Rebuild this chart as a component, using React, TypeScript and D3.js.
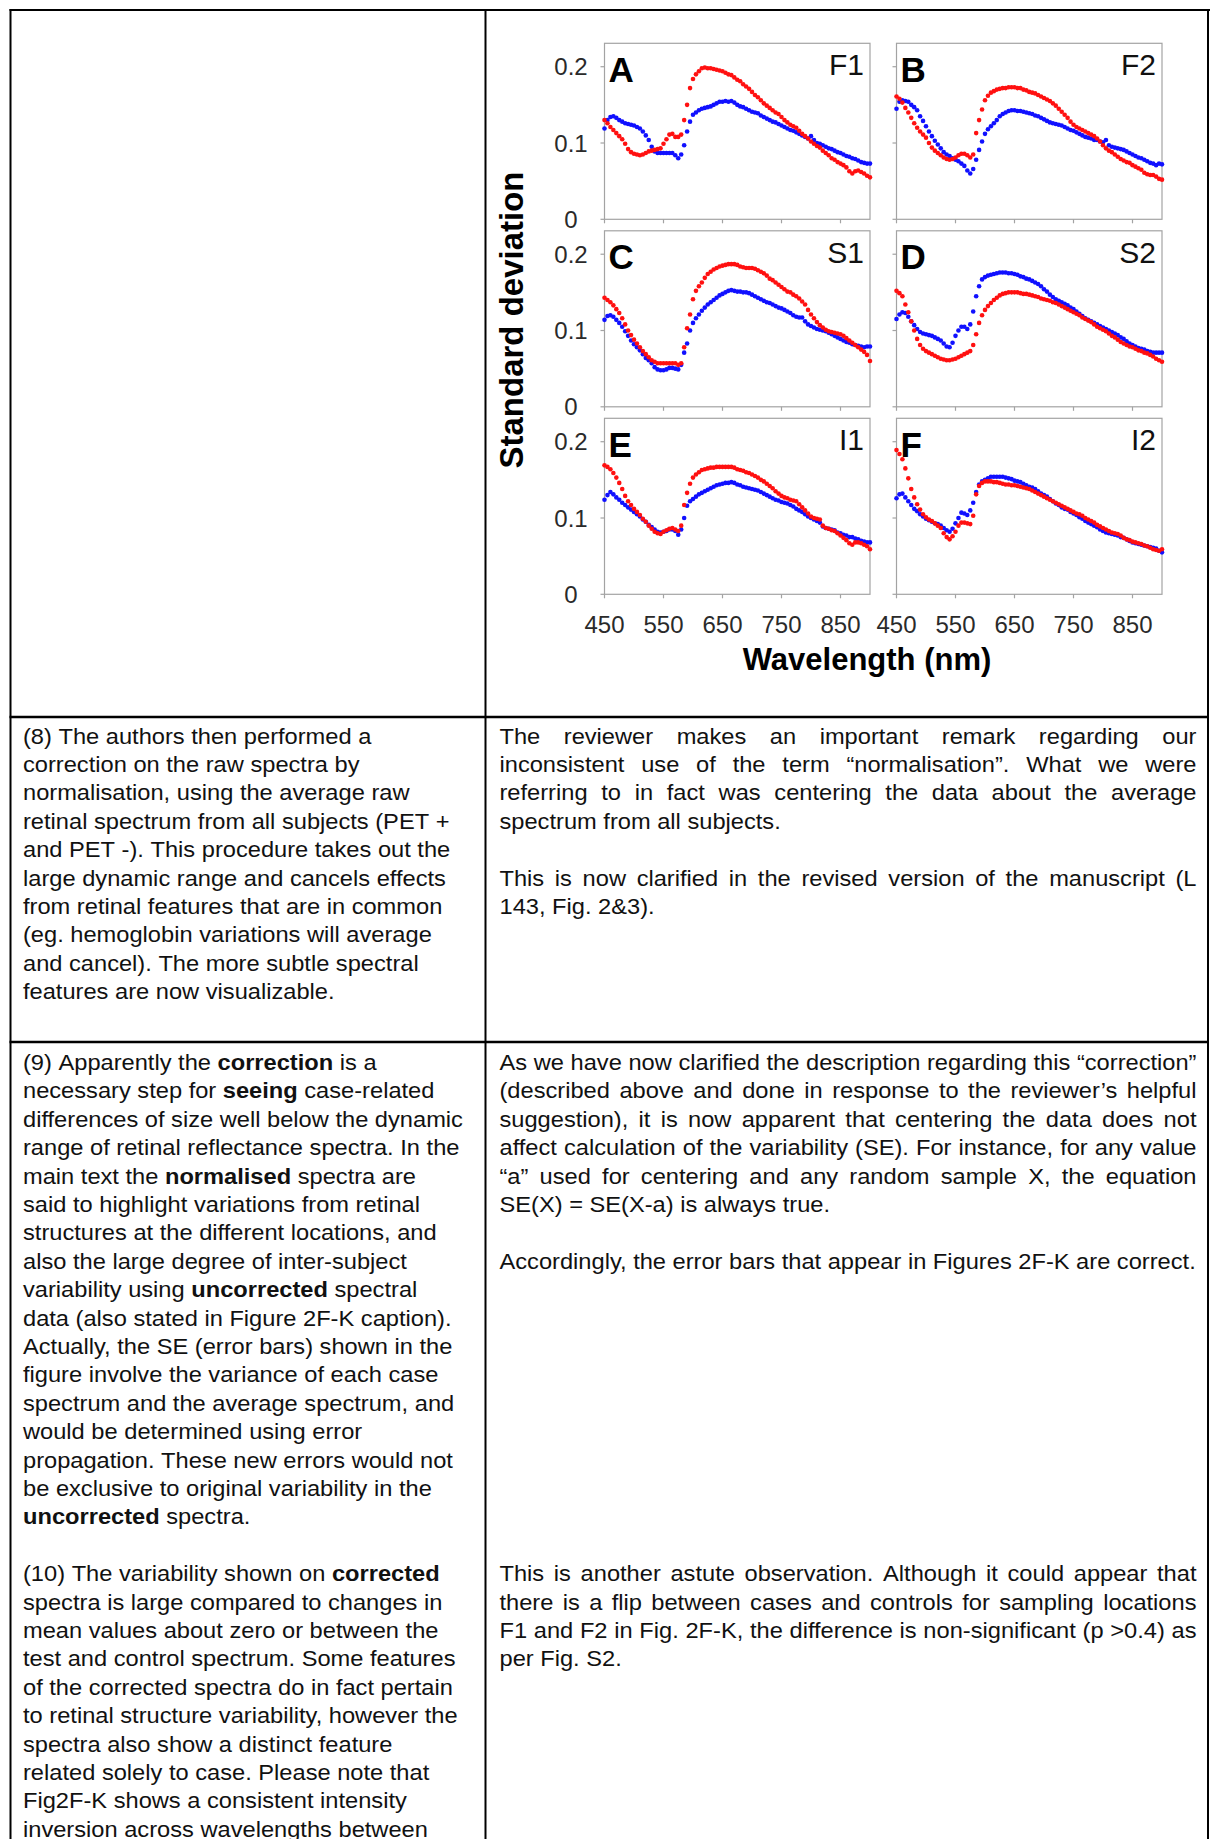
import React, { useEffect } from "react";
import * as d3 from "d3";

// ---------- DATA ----------
const WAVELENGTHS = d3.range(450, 901, 5);
const X_TICKS = [450, 550, 650, 750, 850];
const Y_TICKS = [0, 0.1, 0.2];
const Y_TICK_LABELS = ["0", "0.1", "0.2"];

const A_BLUE = [
  0.119,0.130,0.134,0.135,0.133,0.130,0.128,0.126,0.125,0.124,
  0.123,0.121,0.119,0.115,0.110,0.104,0.095,0.089,0.087,0.087,
  0.087,0.087,0.087,0.087,0.084,0.080,0.085,0.097,0.115,0.128,
  0.137,0.140,0.143,0.145,0.146,0.147,0.148,0.150,0.152,0.154,
  0.154,0.155,0.154,0.155,0.153,0.150,0.148,0.147,0.145,0.143,
  0.141,0.140,0.139,0.136,0.134,0.132,0.130,0.128,0.127,0.125,
  0.123,0.121,0.119,0.117,0.116,0.114,0.112,0.110,0.108,0.106,
  0.109,0.104,0.100,0.099,0.097,0.095,0.093,0.092,0.090,0.088,
  0.087,0.085,0.083,0.082,0.080,0.079,0.077,0.075,0.074,0.073,
  0.073];
const A_RED = [
  0.130,0.126,0.121,0.117,0.113,0.109,0.105,0.099,0.092,0.088,
  0.086,0.085,0.084,0.085,0.087,0.089,0.090,0.091,0.092,0.093,
  0.099,0.105,0.111,0.112,0.108,0.108,0.111,0.130,0.150,0.172,
  0.184,0.190,0.194,0.198,0.199,0.198,0.198,0.197,0.196,0.195,
  0.194,0.192,0.190,0.189,0.186,0.183,0.181,0.177,0.174,0.171,
  0.167,0.163,0.160,0.156,0.152,0.149,0.146,0.143,0.140,0.138,
  0.134,0.130,0.127,0.124,0.122,0.120,0.116,0.112,0.109,0.106,
  0.102,0.099,0.096,0.094,0.090,0.087,0.084,0.080,0.078,0.075,
  0.073,0.071,0.068,0.063,0.060,0.063,0.064,0.062,0.060,0.057,
  0.055];
const B_BLUE = [
  0.145,0.154,0.156,0.155,0.154,0.150,0.147,0.143,0.135,0.129,
  0.122,0.115,0.109,0.103,0.098,0.093,0.088,0.085,0.083,0.080,
  0.078,0.076,0.073,0.070,0.064,0.060,0.066,0.078,0.091,0.102,
  0.112,0.118,0.122,0.126,0.130,0.135,0.138,0.140,0.142,0.143,
  0.143,0.142,0.142,0.141,0.140,0.139,0.138,0.136,0.135,0.133,
  0.131,0.129,0.127,0.126,0.125,0.124,0.123,0.121,0.119,0.117,
  0.116,0.114,0.112,0.110,0.108,0.107,0.106,0.104,0.104,0.102,
  0.101,0.104,0.097,0.095,0.094,0.093,0.092,0.091,0.089,0.087,
  0.085,0.083,0.081,0.080,0.078,0.076,0.074,0.073,0.071,0.073,
  0.072];
const B_RED = [
  0.161,0.158,0.153,0.146,0.140,0.133,0.126,0.120,0.115,0.111,
  0.107,0.100,0.094,0.090,0.087,0.084,0.081,0.079,0.078,0.079,
  0.081,0.084,0.086,0.086,0.084,0.081,0.085,0.113,0.130,0.144,
  0.156,0.162,0.166,0.168,0.170,0.171,0.172,0.172,0.173,0.173,
  0.173,0.172,0.172,0.170,0.169,0.167,0.166,0.165,0.163,0.161,
  0.159,0.157,0.155,0.152,0.149,0.145,0.141,0.137,0.133,0.128,
  0.124,0.121,0.119,0.117,0.115,0.113,0.111,0.109,0.106,0.102,
  0.097,0.093,0.090,0.088,0.085,0.082,0.079,0.077,0.075,0.074,
  0.071,0.069,0.067,0.065,0.061,0.059,0.058,0.058,0.056,0.053,
  0.052];
const C_BLUE = [
  0.114,0.119,0.120,0.118,0.114,0.110,0.105,0.099,0.093,0.087,
  0.082,0.078,0.074,0.069,0.064,0.061,0.057,0.052,0.049,0.048,
  0.048,0.049,0.051,0.051,0.050,0.049,0.055,0.071,0.083,0.100,
  0.110,0.116,0.121,0.126,0.130,0.134,0.137,0.140,0.143,0.146,
  0.148,0.150,0.152,0.153,0.152,0.151,0.151,0.150,0.150,0.149,
  0.147,0.145,0.143,0.141,0.139,0.137,0.136,0.134,0.132,0.130,
  0.129,0.127,0.125,0.123,0.120,0.118,0.117,0.117,0.112,0.108,
  0.106,0.104,0.102,0.101,0.100,0.099,0.097,0.095,0.093,0.091,
  0.089,0.087,0.085,0.084,0.082,0.081,0.080,0.079,0.078,0.079,
  0.079];
const C_RED = [
  0.143,0.140,0.137,0.133,0.128,0.123,0.116,0.108,0.100,0.094,
  0.088,0.083,0.078,0.073,0.069,0.065,0.061,0.059,0.057,0.057,
  0.057,0.057,0.057,0.057,0.057,0.055,0.057,0.078,0.103,0.121,
  0.141,0.152,0.158,0.163,0.169,0.174,0.177,0.180,0.182,0.184,
  0.185,0.186,0.187,0.187,0.187,0.186,0.184,0.183,0.182,0.182,
  0.182,0.181,0.179,0.177,0.175,0.172,0.168,0.166,0.163,0.160,
  0.157,0.154,0.151,0.150,0.147,0.145,0.142,0.138,0.134,0.127,
  0.121,0.116,0.111,0.107,0.104,0.101,0.099,0.098,0.097,0.096,
  0.095,0.093,0.090,0.087,0.084,0.081,0.078,0.075,0.072,0.068,
  0.060];
const D_BLUE = [
  0.115,0.121,0.124,0.123,0.118,0.112,0.107,0.102,0.098,0.096,
  0.095,0.094,0.093,0.091,0.089,0.087,0.083,0.079,0.078,0.084,
  0.093,0.100,0.105,0.105,0.102,0.108,0.125,0.145,0.158,0.167,
  0.170,0.172,0.173,0.174,0.175,0.176,0.176,0.176,0.175,0.175,
  0.174,0.173,0.171,0.170,0.168,0.167,0.165,0.163,0.161,0.158,
  0.154,0.151,0.147,0.144,0.141,0.139,0.137,0.135,0.133,0.130,
  0.128,0.125,0.122,0.119,0.116,0.114,0.112,0.110,0.108,0.106,
  0.104,0.102,0.100,0.098,0.096,0.094,0.091,0.089,0.086,0.083,
  0.081,0.079,0.077,0.076,0.075,0.073,0.072,0.071,0.071,0.071,
  0.071];
const D_RED = [
  0.152,0.149,0.145,0.134,0.124,0.112,0.100,0.089,0.081,0.076,
  0.073,0.071,0.069,0.067,0.065,0.063,0.062,0.061,0.061,0.062,
  0.063,0.065,0.067,0.069,0.071,0.073,0.081,0.095,0.110,0.120,
  0.127,0.132,0.136,0.140,0.143,0.146,0.148,0.149,0.150,0.150,
  0.150,0.150,0.149,0.148,0.148,0.147,0.146,0.145,0.144,0.142,
  0.141,0.140,0.139,0.137,0.136,0.134,0.132,0.130,0.128,0.126,
  0.124,0.122,0.120,0.117,0.115,0.113,0.111,0.108,0.105,0.103,
  0.101,0.099,0.096,0.093,0.091,0.088,0.085,0.083,0.081,0.079,
  0.078,0.076,0.074,0.073,0.071,0.070,0.068,0.066,0.063,0.061,
  0.059];
const E_BLUE = [
  0.124,0.130,0.134,0.131,0.127,0.124,0.120,0.117,0.114,0.111,
  0.108,0.105,0.102,0.098,0.095,0.091,0.088,0.085,0.082,0.081,
  0.082,0.083,0.085,0.085,0.083,0.078,0.085,0.100,0.116,0.122,
  0.125,0.128,0.131,0.133,0.135,0.137,0.139,0.141,0.143,0.144,
  0.145,0.146,0.146,0.147,0.146,0.144,0.143,0.141,0.140,0.139,
  0.138,0.137,0.136,0.134,0.132,0.130,0.128,0.126,0.124,0.123,
  0.121,0.120,0.119,0.117,0.115,0.112,0.110,0.108,0.105,0.102,
  0.100,0.098,0.096,0.094,0.089,0.087,0.086,0.085,0.084,0.081,
  0.080,0.078,0.077,0.075,0.075,0.073,0.072,0.070,0.069,0.068,
  0.068];
const E_RED = [
  0.169,0.167,0.164,0.159,0.153,0.146,0.138,0.129,0.122,0.117,
  0.112,0.108,0.104,0.099,0.095,0.090,0.086,0.082,0.080,0.079,
  0.082,0.084,0.086,0.087,0.085,0.083,0.090,0.117,0.133,0.145,
  0.153,0.157,0.160,0.163,0.164,0.165,0.166,0.166,0.167,0.167,
  0.167,0.167,0.167,0.167,0.166,0.164,0.163,0.162,0.160,0.159,
  0.157,0.155,0.153,0.150,0.148,0.145,0.142,0.139,0.135,0.132,
  0.129,0.127,0.126,0.124,0.123,0.122,0.118,0.114,0.110,0.106,
  0.102,0.100,0.099,0.098,0.090,0.087,0.086,0.084,0.083,0.080,
  0.077,0.074,0.071,0.067,0.065,0.068,0.068,0.067,0.065,0.063,
  0.059];
const F_BLUE = [
  0.126,0.131,0.132,0.127,0.122,0.117,0.112,0.109,0.105,0.102,
  0.099,0.097,0.095,0.093,0.092,0.090,0.087,0.084,0.082,0.086,
  0.093,0.100,0.107,0.106,0.104,0.110,0.120,0.134,0.144,0.148,
  0.150,0.152,0.154,0.154,0.154,0.154,0.154,0.153,0.152,0.151,
  0.149,0.148,0.147,0.145,0.143,0.141,0.140,0.138,0.135,0.132,
  0.130,0.128,0.125,0.122,0.119,0.117,0.114,0.112,0.111,0.108,
  0.106,0.104,0.101,0.099,0.096,0.094,0.092,0.090,0.088,0.085,
  0.083,0.081,0.080,0.079,0.078,0.077,0.075,0.074,0.072,0.070,
  0.068,0.067,0.066,0.065,0.064,0.063,0.062,0.061,0.060,0.057,
  0.055];
const F_RED = [
  0.189,0.184,0.177,0.165,0.152,0.138,0.127,0.118,0.111,0.105,
  0.101,0.098,0.096,0.093,0.090,0.087,0.080,0.075,0.072,0.076,
  0.082,0.090,0.094,0.094,0.093,0.092,0.103,0.131,0.142,0.146,
  0.148,0.148,0.148,0.147,0.147,0.146,0.145,0.144,0.144,0.143,
  0.143,0.142,0.141,0.140,0.139,0.138,0.136,0.134,0.132,0.130,
  0.128,0.126,0.124,0.122,0.120,0.118,0.116,0.114,0.112,0.110,
  0.108,0.106,0.105,0.103,0.100,0.098,0.096,0.094,0.091,0.089,
  0.087,0.085,0.083,0.081,0.080,0.079,0.077,0.074,0.072,0.071,
  0.069,0.068,0.067,0.066,0.064,0.063,0.061,0.059,0.058,0.057,
  0.059];

const PANEL_LETTERS = ["A", "B", "C", "D", "E", "F"];
const PANEL_SITES = ["F1", "F2", "S1", "S2", "I1", "I2"];
const PANEL_BLUE = [A_BLUE, B_BLUE, C_BLUE, D_BLUE, E_BLUE, F_BLUE];
const PANEL_RED = [A_RED, B_RED, C_RED, D_RED, E_RED, F_RED];

const Y_TITLE = "Standard deviation";
const X_TITLE = "Wavelength (nm)";

// ---------- TEXT ----------
const ROW2_LEFT = [
  ["(8) The authors then performed a",
   "correction on the raw spectra by",
   "normalisation, using the average raw",
   "retinal spectrum from all subjects (PET +",
   "and PET -). This procedure takes out the",
   "large dynamic range and cancels effects",
   "from retinal features that are in common",
   "(eg. hemoglobin variations will average",
   "and cancel). The more subtle spectral",
   "features are now visualizable."],
];
const ROW2_LEFT_START = [0];

const ROW2_RIGHT = [
  ["The reviewer makes an important remark regarding our",
   "inconsistent use of the term \u201cnormalisation\u201d. What we were",
   "referring to in fact was centering the data about the average",
   "spectrum from all subjects."],
  ["This is now clarified in the revised version of the manuscript (L",
   "143, Fig. 2&3)."],
];
const ROW2_RIGHT_START = [0, 5];

const ROW3_LEFT = [
  ["(9) Apparently the **correction** is a",
   "necessary step for **seeing** case-related",
   "differences of size well below the dynamic",
   "range of retinal reflectance spectra. In the",
   "main text the **normalised** spectra are",
   "said to highlight variations from retinal",
   "structures at the different locations, and",
   "also the large degree of inter-subject",
   "variability using **uncorrected** spectral",
   "data (also stated in Figure 2F-K caption).",
   "Actually, the SE (error bars) shown in the",
   "figure involve the variance of each case",
   "spectrum and the average spectrum, and",
   "would be determined using error",
   "propagation. These new errors would not",
   "be exclusive to original variability in the",
   "**uncorrected** spectra."],
  ["(10) The variability shown on **corrected**",
   "spectra is large compared to changes in",
   "mean values about zero or between the",
   "test and control spectrum. Some features",
   "of the corrected spectra do in fact pertain",
   "to retinal structure variability, however the",
   "spectra also show a distinct feature",
   "related solely to case. Please note that",
   "Fig2F-K shows a consistent intensity",
   "inversion across wavelengths between"],
];
const ROW3_LEFT_START = [0, 18];

const ROW3_RIGHT = [
  ["As we have now clarified the description regarding this \u201ccorrection\u201d",
   "(described above and done in response to the reviewer\u2019s helpful",
   "suggestion), it is now apparent that centering the data does not",
   "affect calculation of the variability (SE). For instance, for any value",
   "\u201ca\u201d used for centering and any random sample X, the equation",
   "SE(X) = SE(X-a) is always true."],
  ["Accordingly, the error bars that appear in Figures 2F-K are correct."],
  ["This is another astute observation. Although it could appear that",
   "there is a flip between cases and controls for sampling locations",
   "F1 and F2 in Fig. 2F-K, the difference is non-significant (p >0.4) as",
   "per Fig. S2."],
];
const ROW3_RIGHT_START = [0, 7, 18];

// ---------- LAYOUT ----------
const W = 1210;
const H = 1839;
const FONT = '"Liberation Sans", Arial, Helvetica, sans-serif';
const FS = 21.5;
const SX = 1.1;
const LH = 28.4;
const LEFT_X = 23;
const LEFT_W = 450;
const RIGHT_X = 499.5;
const RIGHT_W = 697;
const ROW2_BASE = 743.5;
const ROW3_BASE = 1070;

const TABLE_LEFT = 10.5;
const TABLE_TOP = 10;
const TABLE_MID = 485.5;
const TABLE_RIGHT = 1208;
const ROW_LINES = [717, 1042];

const COL_X = [604.5, 896.5];
const PANEL_W = 265.5;
const ROW_Y = [43.3, 230.8, 418.3];
const PANEL_H = 176;
const Y_MAX = 0.2307;

let measureCtx: CanvasRenderingContext2D | null = null;
function measure(text: string, bold: boolean): number {
  if (!measureCtx) measureCtx = document.createElement("canvas").getContext("2d");
  if (!measureCtx) return text.length * FS * 0.5 * SX;
  measureCtx.font = `${bold ? "bold " : ""}${FS}px "Liberation Sans"`;
  return measureCtx.measureText(text).width * SX;
}

function TextLine({ x, y, width, text, justify }: { x: number; y: number; width: number; text: string; justify: boolean }) {
  const words = text.split(" ").filter((w) => w.length > 0).map((w) => {
    const bold = w.startsWith("**") && w.endsWith("**") && w.length > 4;
    const t = bold ? w.slice(2, -2) : w;
    return { t, bold, w: measure(t, bold) };
  });
  const space = measure(" ", false);
  const natural = d3.sum(words, (d) => d.w) + space * (words.length - 1);
  const gap = justify && words.length > 1 ? space + (width - natural) / (words.length - 1) : space;
  let cx = x;
  return (
    <g>
      {words.map((wd, i) => {
        const el = (
          <text
            key={i}
            transform={`translate(${cx.toFixed(2)},${y.toFixed(2)}) scale(${SX},1)`}
            fontWeight={wd.bold ? "bold" : "normal"}
          >
            {wd.t}
          </text>
        );
        cx += wd.w + gap;
        return el;
      })}
    </g>
  );
}

function TextBlock({ paras, starts, x, width, base, justify }: { paras: string[][]; starts: number[]; x: number; width: number; base: number; justify: boolean }) {
  return (
    <g fontFamily={FONT} fontSize={FS} fill="#111">
      {paras.map((lines, pi) =>
        lines.map((line, li) => (
          <TextLine
            key={`${pi}-${li}`}
            x={x}
            y={base + (starts[pi] + li) * LH}
            width={width}
            text={line}
            justify={justify && li < lines.length - 1}
          />
        ))
      )}
    </g>
  );
}

function Panel({ idx }: { idx: number }) {
  const col = idx % 2;
  const row = Math.floor(idx / 2);
  const x0 = COL_X[col];
  const y0 = ROW_Y[row];
  const x = d3.scaleLinear().domain([450, 900]).range([x0, x0 + PANEL_W]);
  const y = d3.scaleLinear().domain([0, Y_MAX]).range([y0 + PANEL_H, y0]);
  const yb = y0 + PANEL_H;
  const blue = PANEL_BLUE[idx];
  const red = PANEL_RED[idx];
  return (
    <g>
      <rect x={x0} y={y0} width={PANEL_W} height={PANEL_H} fill="#fff" stroke="#a3a3a3" strokeWidth={1.2} />
      {Y_TICKS.map((t) => (
        <line key={`yt${t}`} x1={x0 - 4} x2={x0} y1={y(t)} y2={y(t)} stroke="#a3a3a3" strokeWidth={1.2} />
      ))}
      {X_TICKS.map((t) => (
        <line key={`xt${t}`} x1={x(t)} x2={x(t)} y1={yb} y2={yb + 4} stroke="#a3a3a3" strokeWidth={1.2} />
      ))}
      {col === 0 &&
        Y_TICKS.map((t, i) => (
          <text key={`yl${t}`} x={571} y={y(t) + 8.6} textAnchor="middle" fontFamily={FONT} fontSize={24} fill="#2a2a2a">
            {Y_TICK_LABELS[i]}
          </text>
        ))}
      {row === 2 &&
        X_TICKS.map((t) => (
          <text key={`xl${t}`} x={x(t)} y={633} textAnchor="middle" fontFamily={FONT} fontSize={24} fill="#2a2a2a">
            {t}
          </text>
        ))}
      <g>
        {WAVELENGTHS.map((wl, i) => (
          <circle key={`b${wl}`} cx={x(wl)} cy={y(blue[i])} r={2.3} fill="#1010ff" />
        ))}
        {WAVELENGTHS.map((wl, i) => (
          <circle key={`r${wl}`} cx={x(wl)} cy={y(red[i])} r={2.3} fill="#ff1010" />
        ))}
      </g>
      <text x={x0 + 4} y={y0 + 38.5} fontFamily={FONT} fontWeight="bold" fontSize={35} fill="#000">
        {PANEL_LETTERS[idx]}
      </text>
      <text x={x0 + PANEL_W - 6} y={y0 + 32} textAnchor="end" fontFamily={FONT} fontSize={30} fill="#111">
        {PANEL_SITES[idx]}
      </text>
    </g>
  );
}

export default function App() {
  useEffect(() => {
    document.body.style.margin = "0";
  }, []);
  return (
    <svg
      width={W}
      height={H}
      viewBox={`0 0 ${W} ${H}`}
      style={{ position: "absolute", left: 0, top: 0, display: "block", background: "#fff" }}
    >
      <rect x={0} y={0} width={W} height={H} fill="#fff" />
      {PANEL_LETTERS.map((_, i) => (
        <Panel key={i} idx={i} />
      ))}
      <text
        transform="translate(523,320) rotate(-90)"
        textAnchor="middle"
        fontFamily={FONT}
        fontWeight="bold"
        fontSize={33}
        fill="#000"
      >
        {Y_TITLE}
      </text>
      <text x={867} y={670} textAnchor="middle" fontFamily={FONT} fontWeight="bold" fontSize={31} fill="#000">
        {X_TITLE}
      </text>

      <g stroke="#000" strokeWidth={2}>
        <line x1={TABLE_LEFT - 1} x2={W} y1={TABLE_TOP} y2={TABLE_TOP} />
        <line x1={TABLE_LEFT} x2={TABLE_LEFT} y1={TABLE_TOP - 1} y2={H} />
        <line x1={TABLE_MID} x2={TABLE_MID} y1={TABLE_TOP - 1} y2={H} />
        <line x1={TABLE_RIGHT} x2={TABLE_RIGHT} y1={TABLE_TOP - 1} y2={H} />
        {ROW_LINES.map((yy) => (
          <line key={yy} x1={TABLE_LEFT - 1} x2={TABLE_RIGHT + 1} y1={yy} y2={yy} strokeWidth={2.5} />
        ))}
      </g>

      <TextBlock paras={ROW2_LEFT} starts={ROW2_LEFT_START} x={LEFT_X} width={LEFT_W} base={ROW2_BASE} justify={false} />
      <TextBlock paras={ROW2_RIGHT} starts={ROW2_RIGHT_START} x={RIGHT_X} width={RIGHT_W} base={ROW2_BASE} justify={true} />
      <TextBlock paras={ROW3_LEFT} starts={ROW3_LEFT_START} x={LEFT_X} width={LEFT_W} base={ROW3_BASE} justify={false} />
      <TextBlock paras={ROW3_RIGHT} starts={ROW3_RIGHT_START} x={RIGHT_X} width={RIGHT_W} base={ROW3_BASE} justify={true} />
    </svg>
  );
}
